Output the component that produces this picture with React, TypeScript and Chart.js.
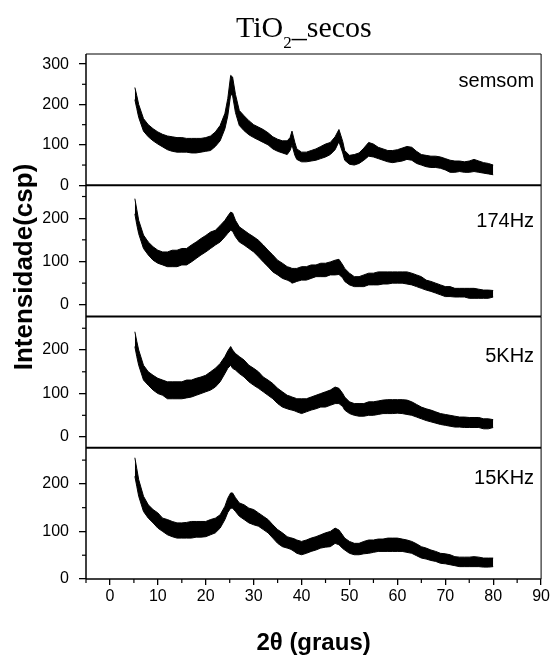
import React, { useEffect, useRef } from 'react';
import { Chart, registerables } from 'chart.js';

Chart.register(...registerables);

// 2θ sampling positions (degrees)
const THETA = [
  5.2, 5.6, 6,
  7, 8, 9, 10, 11, 12, 13, 14, 15, 16, 17, 18, 19, 20, 21, 22, 23, 24,
  24.6, 25.2, 25.6, 26.2,
  27, 28, 29, 30, 31, 32, 33, 34, 35, 36, 37,
  37.6, 38, 38.6,
  39, 40, 41, 42, 43, 44, 45, 46, 47,
  47.8, 48.6,
  49, 50, 51, 52, 53, 54, 55, 56, 57, 58,
  59, 60, 61, 62, 63, 64, 65, 66, 67, 68,
  69, 70, 71, 72, 73, 74, 75, 76, 77, 78,
  79, 80,
];

// Each trace is noisy: upper and lower edge of the noise band (counts)
const SEMSOM_HI = [
  242, 222, 200,
  165, 150, 140, 132, 126, 122, 120, 118, 118, 116, 116, 116, 116, 118, 122, 132, 148, 178,
  215, 272, 268, 225,
  185, 172, 160, 150, 144, 138, 130, 120, 114, 110, 110,
  118, 134, 106,
  90, 82, 82, 86, 90, 96, 102, 106, 120,
  138, 108,
  86, 74, 76, 80, 92, 106, 102, 94, 90, 86,
  86, 88, 92, 96, 94, 84, 76, 74, 72, 72,
  70, 66, 62, 60, 60, 58, 60, 64, 60, 56,
  54, 50,
];
const SEMSOM_LO = [
  212, 190, 168,
  134, 120, 110, 102, 95, 88, 84, 82, 82, 82, 80, 80, 82, 84, 86, 96, 110, 140,
  172, 225, 222, 180,
  148, 135, 125, 118, 112, 106, 100, 90, 84, 80, 76,
  86, 100, 74,
  64, 58, 58, 60, 62, 66, 70, 76, 88,
  108, 80,
  62, 52, 50, 54, 62, 72, 70, 66, 62, 58,
  56, 58, 60, 64, 62, 54, 50, 46, 44, 44,
  42, 38, 32, 32, 34, 32, 32, 34, 32, 30,
  28, 26,
];

const HZ174_HI = [
  245, 220, 195,
  161, 145, 134, 126, 122, 122, 126, 126, 130, 130, 138, 145, 153, 160, 168, 172, 183, 195,
  205, 214, 212, 195,
  180, 172, 164, 157, 149, 138, 126, 115, 103, 96, 88,
  86, 84, 84,
  84, 88, 88, 92, 92, 96, 96, 99, 103,
  105, 92,
  84, 73, 65, 65, 69, 73, 73, 76, 76, 76,
  76, 76, 76, 76, 73, 69, 65, 57, 54, 50,
  46, 42, 42, 38, 38, 38, 38, 38, 36, 34,
  34, 33,
];
const HZ174_LO = [
  210, 185, 164,
  130, 115, 103, 96, 92, 88, 88, 88, 92, 92, 99, 107, 115, 122, 130, 138, 145, 157,
  165, 172, 170, 157,
  145, 138, 130, 122, 111, 99, 88, 76, 69, 61, 57,
  54, 50, 52,
  54, 57, 57, 61, 65, 65, 65, 69, 69,
  70, 62,
  54, 46, 42, 42, 42, 46, 46, 46, 48, 48,
  50, 50, 50, 48, 46, 42, 38, 34, 31, 27,
  23, 19, 19, 18, 18, 18, 15, 15, 15, 15,
  15, 18,
];

const KHZ5_HI = [
  242, 220, 200,
  165, 150, 142, 135, 131, 127, 127, 127, 127, 131, 131, 135, 138, 142, 150, 158, 169, 185,
  198, 208, 200, 192,
  185, 177, 165, 158, 150, 138, 131, 123, 112, 104, 96,
  94, 92, 90,
  88, 88, 88, 92, 96, 100, 104, 108, 115,
  112, 100,
  92, 81, 77, 77, 77, 81, 81, 83, 85, 86,
  86, 86, 86, 85, 81, 75, 69, 65, 62, 58,
  54, 52, 50, 48, 46, 46, 45, 45, 45, 42,
  42, 40,
];
const KHZ5_LO = [
  208, 185, 165,
  131, 119, 108, 100, 96, 88, 88, 88, 88, 90, 92, 96, 100, 104, 108, 115, 127, 146,
  158, 165, 158, 154,
  146, 138, 127, 119, 112, 104, 96, 88, 77, 69, 65,
  63, 62, 60,
  58, 54, 58, 62, 65, 69, 69, 73, 77,
  77, 70,
  62, 54, 50, 48, 48, 50, 50, 52, 54, 54,
  54, 55, 54, 52, 50, 46, 42, 38, 35, 32,
  29, 27, 25, 23, 23, 22, 22, 22, 22, 19,
  19, 22,
];

const KHZ15_HI = [
  255, 232, 209,
  174, 156, 146, 139, 128, 125, 121, 118, 118, 119, 121, 121, 121, 121, 125, 128, 135, 153,
  170, 181, 181, 171,
  160, 156, 149, 146, 139, 132, 125, 114, 104, 97, 89,
  87, 86, 84,
  82, 79, 82, 86, 89, 93, 97, 100, 107,
  103, 92,
  86, 79, 75, 75, 79, 82, 82, 84, 84, 86,
  86, 86, 84, 82, 79, 74, 68, 65, 61, 58,
  54, 53, 51, 47, 46, 46, 46, 47, 46, 44,
  44, 44,
];
const KHZ15_LO = [
  216, 195, 174,
  142, 128, 118, 107, 100, 93, 89, 86, 86, 86, 86, 88, 88, 89, 93, 97, 107, 125,
  140, 149, 149, 142,
  132, 125, 118, 114, 111, 104, 97, 86, 75, 68, 65,
  63, 61, 57,
  54, 51, 54, 58, 61, 65, 67, 68, 75,
  72, 64,
  61, 54, 51, 51, 53, 54, 56, 58, 58, 58,
  58, 58, 58, 56, 54, 49, 44, 42, 39, 37,
  33, 32, 30, 28, 26, 26, 26, 26, 26, 25,
  25, 26,
];

const PANEL_NAMES = ['semsom', '174Hz', '5KHz', '15KHz'];
const PANEL_HI = [SEMSOM_HI, HZ174_HI, KHZ5_HI, KHZ15_HI];
const PANEL_LO = [SEMSOM_LO, HZ174_LO, KHZ5_LO, KHZ15_LO];
const Y_MIN = [0, -27, -24.5, 0];
const Y_MAX = [325, 276, 277, 276];

const X_TICKS = [0, 10, 20, 30, 40, 50, 60, 70, 80, 90];
const X_MINOR_TICKS = [-5, 5, 15, 25, 35, 45, 55, 65, 75, 85];
const Y_TICKS_TOP = [0, 100, 200, 300];
const Y_TICKS = [0, 100, 200];
const Y_MINOR_TICKS = [50, 150, 250];

const TITLE_MAIN = 'TiO';
const TITLE_SUB = '2';
const TITLE_REST = '_secos';
const X_TITLE = '2θ (graus)';
const Y_TITLE = 'Intensidade(csp)';

const PANEL_IDS = ['p0', 'p1', 'p2', 'p3'];
const LABEL_OFFSETS = [33, 42, 45, 36];
const SANS = '"Liberation Sans", Arial, sans-serif';
const SERIF = '"Liberation Serif", "Times New Roman", serif';

const decorPlugin = {
  id: 'decor',
  afterDraw(chart: any) {
    const ctx = chart.ctx as CanvasRenderingContext2D;
    const { left, right, top, bottom } = chart.chartArea;
    const xs = chart.scales.x;
    ctx.save();
    ctx.strokeStyle = '#000';
    ctx.fillStyle = '#000';

    const line = (x1: number, y1: number, x2: number, y2: number, w: number) => {
      ctx.lineWidth = w;
      ctx.beginPath();
      ctx.moveTo(x1, y1);
      ctx.lineTo(x2, y2);
      ctx.stroke();
    };

    // frame
    line(left, top, right, top, 1);
    line(right, top, right, bottom, 1);
    line(left, top, left, bottom, 1.5);
    line(left, bottom, right, bottom, 1.5);
    // separators
    for (let i = 0; i < PANEL_IDS.length - 1; i++) {
      const s = chart.scales[PANEL_IDS[i]];
      line(left, s.bottom, right, s.bottom, 2);
    }
    // minor ticks
    X_MINOR_TICKS.forEach((v) => {
      const px = xs.getPixelForValue(v);
      line(px, bottom, px, bottom + 4, 1.2);
    });
    PANEL_IDS.forEach((id) => {
      const s = chart.scales[id];
      Y_MINOR_TICKS.forEach((v) => {
        if (v < s.min || v > s.max) return;
        const py = s.getPixelForValue(v);
        line(left - 4, py, left, py, 1.2);
      });
    });

    // panel labels
    ctx.font = `20px ${SANS}`;
    ctx.textAlign = 'right';
    ctx.textBaseline = 'alphabetic';
    PANEL_IDS.forEach((id, i) => {
      const s = chart.scales[id];
      ctx.fillText(PANEL_NAMES[i], right - 7, s.top + LABEL_OFFSETS[i]);
    });

    // main title with subscript
    ctx.textAlign = 'left';
    let tx = 236;
    const ty = 37;
    ctx.font = `30px ${SERIF}`;
    ctx.fillText(TITLE_MAIN, tx, ty);
    tx += ctx.measureText(TITLE_MAIN).width;
    ctx.font = `17px ${SERIF}`;
    ctx.fillText(TITLE_SUB, tx, ty + 11);
    tx += ctx.measureText(TITLE_SUB).width;
    ctx.font = `30px ${SERIF}`;
    ctx.fillText(TITLE_REST, tx, ty);

    // x title
    ctx.font = `bold 24px ${SANS}`;
    ctx.textAlign = 'center';
    ctx.fillText(X_TITLE, (left + right) / 2, 650);

    // y title
    ctx.save();
    ctx.translate(32, 267);
    ctx.rotate(-Math.PI / 2);
    ctx.font = `bold 26px ${SANS}`;
    ctx.textAlign = 'center';
    ctx.fillText(Y_TITLE, 0, 0);
    ctx.restore();

    ctx.restore();
  },
};

export default function App() {
  const ref = useRef<HTMLCanvasElement | null>(null);

  useEffect(() => {
    if (!ref.current) return;
    Chart.defaults.font.family = SANS;
    Chart.defaults.color = '#000';

    const datasets: any[] = [];
    PANEL_IDS.forEach((id, i) => {
      datasets.push({
        data: THETA.map((x, j) => ({ x, y: PANEL_LO[i][j] })),
        yAxisID: id,
        borderColor: '#000',
        borderWidth: 1,
        pointRadius: 0,
        fill: false,
        tension: 0,
      });
      datasets.push({
        data: THETA.map((x, j) => ({ x, y: PANEL_HI[i][j] })),
        yAxisID: id,
        borderColor: '#000',
        borderWidth: 1,
        pointRadius: 0,
        fill: '-1',
        backgroundColor: '#000',
        tension: 0,
      });
    });

    const gridOpts = (len: number) => ({
      display: true,
      drawOnChartArea: false,
      drawTicks: true,
      tickLength: len,
      color: '#000',
      lineWidth: 1.3,
    });

    const scales: any = {
      x: {
        type: 'linear',
        min: -5,
        max: 90,
        afterBuildTicks: (s: any) => {
          s.ticks = X_TICKS.map((v) => ({ value: v }));
        },
        afterFit: (s: any) => {
          s.height = 81;
        },
        grid: gridOpts(6),
        border: { display: false },
        ticks: { font: { size: 16 }, color: '#000', padding: 2, maxRotation: 0, autoSkip: false },
      },
    };
    PANEL_IDS.forEach((id, i) => {
      scales[id] = {
        type: 'linear',
        position: 'left',
        stack: 'panels',
        stackWeight: 1,
        weight: PANEL_IDS.length - i,
        min: Y_MIN[i],
        max: Y_MAX[i],
        afterBuildTicks: (s: any) => {
          s.ticks = (i === 0 ? Y_TICKS_TOP : Y_TICKS).map((v) => ({ value: v }));
        },
        afterFit: (s: any) => {
          s.width = 86;
        },
        grid: gridOpts(7),
        border: { display: false },
        ticks: { font: { size: 16 }, color: '#000', padding: 10, autoSkip: false },
      };
    });

    const chart = new Chart(ref.current, {
      type: 'line',
      data: { datasets },
      options: {
        animation: false,
        responsive: false,
        devicePixelRatio: 1,
        layout: { padding: { top: 54, right: 10, left: 0, bottom: 0 } },
        plugins: {
          legend: { display: false },
          tooltip: { enabled: false },
          title: { display: false },
        },
        scales,
      },
      plugins: [decorPlugin],
    });
    return () => chart.destroy();
  }, []);

  return (
    <div style={{ position: 'fixed', left: 0, top: 0, width: 552, height: 660, background: '#fff' }}>
      <canvas ref={ref} width={552} height={660} />
    </div>
  );
}
